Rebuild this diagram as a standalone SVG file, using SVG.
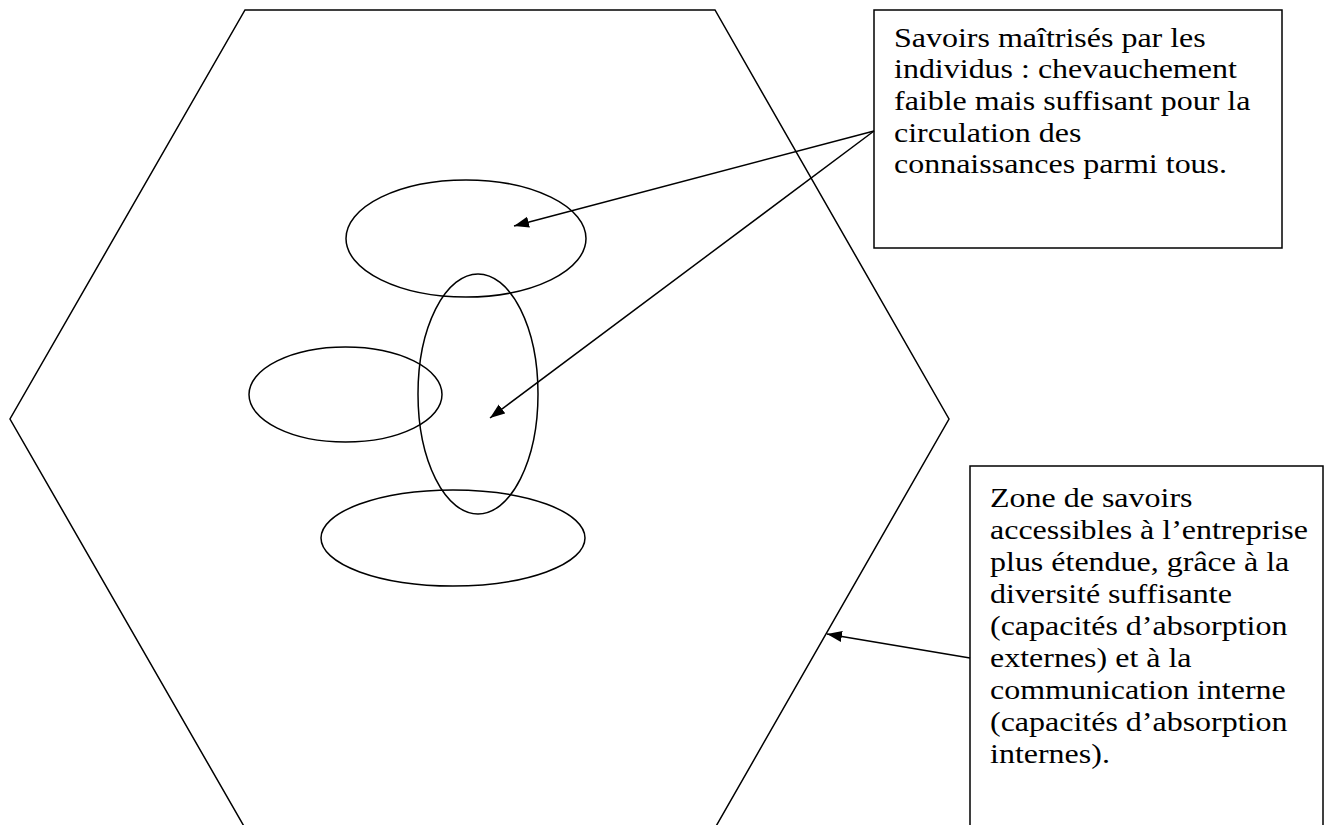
<svg xmlns="http://www.w3.org/2000/svg" width="1330" height="825" viewBox="0 0 1330 825">
<style>
.shape{fill:none;stroke:#000;stroke-width:1.5}
.box{fill:#fff;stroke:#000;stroke-width:1.5}
.conn{fill:none;stroke:#000;stroke-width:1.5}
.txt{font-family:"Liberation Serif","Times New Roman",serif;font-size:28px;fill:#000}
</style>
<defs>
<marker id="arrow" markerUnits="userSpaceOnUse" markerWidth="16" markerHeight="12" refX="15" refY="5.5" orient="auto">
<path d="M0,0 L15,5.5 L0,11 z" fill="#000"/>
</marker>
</defs>
<rect width="1330" height="825" fill="#fff"/>
<g id="hexagon">
<polygon class="shape" points="245,10 715,10 949,419 715,828 245,828 10,419"/>
</g>
<g id="ellipse-top"><ellipse class="shape" cx="466" cy="238.5" rx="120" ry="58.5"/></g>
<g id="ellipse-vertical"><ellipse class="shape" cx="478" cy="394" rx="60" ry="120"/></g>
<g id="ellipse-left"><ellipse class="shape" cx="345.5" cy="394.5" rx="96.5" ry="47.5"/></g>
<g id="ellipse-bottom"><ellipse class="shape" cx="453" cy="538" rx="132" ry="48"/></g>
<g id="box-savoirs">
<rect class="box" x="874" y="10" width="408" height="238"/>
<text class="txt" transform="translate(894,0) scale(1.143,1)"><tspan x="0" y="47">Savoirs maîtrisés par les</tspan><tspan x="0" y="78">individus : chevauchement</tspan><tspan x="0" y="110">faible mais suffisant pour la</tspan><tspan x="0" y="142">circulation des</tspan><tspan x="0" y="173">connaissances parmi tous.</tspan></text>
</g>
<g id="box-zone">
<rect class="box" x="970" y="466" width="353" height="370"/>
<text class="txt" transform="translate(990,0) scale(1.143,1)"><tspan x="0" y="507">Zone de savoirs</tspan><tspan x="0" y="539">accessibles à l’entreprise</tspan><tspan x="0" y="571">plus étendue, grâce à la</tspan><tspan x="0" y="603">diversité suffisante</tspan><tspan x="0" y="635">(capacités d’absorption</tspan><tspan x="0" y="667">externes) et à la</tspan><tspan x="0" y="699">communication interne</tspan><tspan x="0" y="731">(capacités d’absorption</tspan><tspan x="0" y="763">internes).</tspan></text>
</g>
<g id="connectors">
<line class="conn" x1="874" y1="131" x2="514" y2="226" marker-end="url(#arrow)"/>
<line class="conn" x1="874" y1="131" x2="490" y2="418" marker-end="url(#arrow)"/>
<line class="conn" x1="970" y1="658" x2="827" y2="634" marker-end="url(#arrow)"/>
</g>
</svg>
